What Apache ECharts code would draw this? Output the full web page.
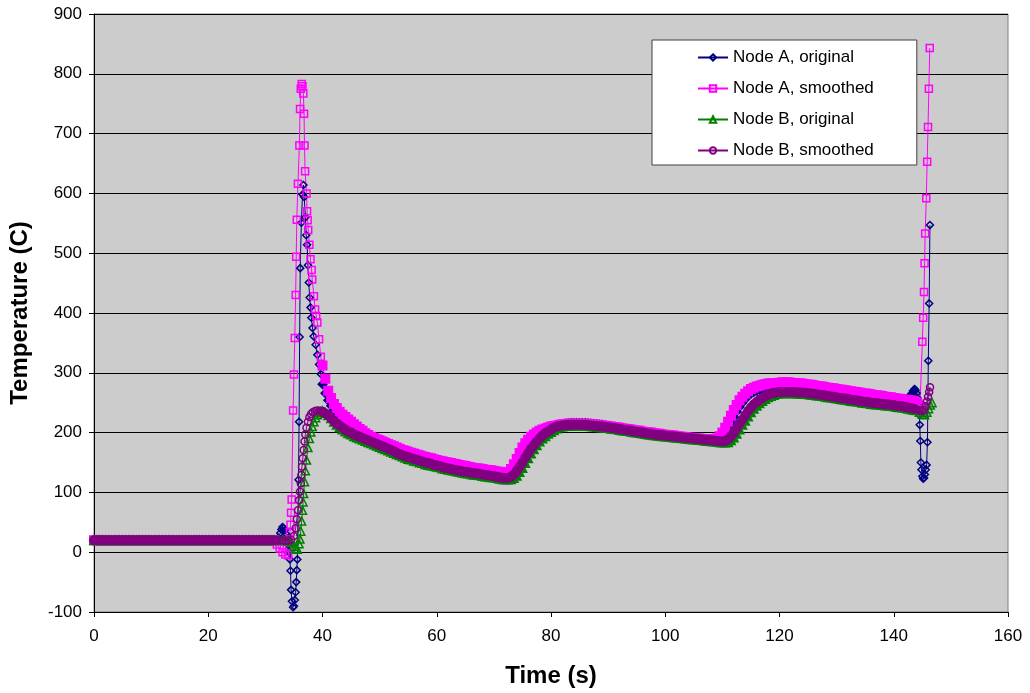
<!DOCTYPE html>
<html>
<head>
<meta charset="utf-8">
<script src="https://cdn.jsdelivr.net/npm/echarts@6/dist/echarts.min.js"></script>
<style>
  html, body { margin: 0; padding: 0; background: #ffffff; }
  #chart { width: 1030px; height: 693px; }
</style>
</head>
<body>
<div id="chart"></div>
<script>
// Regular samples every 0.5 s; the spike stretches are irregular [time, temp] pairs.
const sampleStep = 0.5;
const startTime = 0;
const midStartTime = 40;

const seriesNames = ['Node A, original', 'Node A, smoothed', 'Node B, original', 'Node B, smoothed'];
const seriesColors = ['#000080', '#ff00ff', '#008000', '#800080'];
const seriesSymbols = ['diamond', 'rect', 'triangle', 'circle'];
const xTicks = { min: 0, max: 160, interval: 20 };
const yTicks = { min: -100, max: 900, interval: 100 };

// 0 .. 31.5 s, all four nodes sit at the initial temperature
const startTemps = [
  20, 20, 20, 20, 20, 20, 20, 20, 20, 20, 20, 20, 20, 20, 20, 20,
  20, 20, 20, 20, 20, 20, 20, 20, 20, 20, 20, 20, 20, 20, 20, 20,
  20, 20, 20, 20, 20, 20, 20, 20, 20, 20, 20, 20, 20, 20, 20, 20,
  20, 20, 20, 20, 20, 20, 20, 20, 20, 20, 20, 20, 20, 20, 20, 20
];

// 32 .. 40 s
const nodeAOrigSpike = [
  [32.0, 20], [32.3, 24], [32.6, 32], [32.8, 38], [33.0, 42], [33.2, 40], [33.4, 37], [33.6, 31],
  [33.8, 23], [34.0, 12], [34.15, 0], [34.3, -12], [34.4, -31], [34.5, -63], [34.65, -82],
  [34.85, -92], [35.0, -90], [35.15, -80], [35.3, -67], [35.4, -50], [35.5, -30], [35.6, -12],
  [35.8, 121], [35.9, 218], [36.0, 360], [36.1, 475], [36.3, 551], [36.5, 598], [36.66, 614],
  [36.8, 594], [37.0, 560], [37.15, 530], [37.3, 514], [37.45, 480], [37.6, 451], [37.75, 426],
  [37.9, 409], [38.05, 392], [38.25, 375], [38.45, 361], [38.8, 347], [39.1, 330], [39.4, 314],
  [39.7, 298]
];
const nodeASmoothSpike = [
  [32.0, 13], [32.5, 6], [33.0, 0], [33.5, -4], [34.0, -5], [34.15, 10], [34.3, 33], [34.4, 46],
  [34.5, 66], [34.6, 88], [34.85, 237], [35.0, 297], [35.15, 358], [35.3, 430], [35.4, 494],
  [35.5, 556], [35.7, 616], [35.95, 680], [36.07, 741], [36.2, 775], [36.35, 783], [36.5, 779],
  [36.65, 767], [36.77, 733], [36.85, 680], [36.95, 637], [37.2, 600], [37.3, 570], [37.4, 555],
  [37.5, 539], [37.7, 514], [37.9, 490], [38.1, 472], [38.2, 456], [38.5, 428], [38.7, 406],
  [38.9, 395], [39.1, 384], [39.4, 356], [39.7, 327]
];
const nodeBOrigSpike = [
  [32.0, 20], [32.5, 20], [33.0, 20], [33.5, 19.5], [34.0, 19], [34.5, 16], [35.0, 10], [35.3, 6],
  [35.6, 5], [35.9, 14], [36.05, 22], [36.2, 35], [36.35, 52], [36.5, 70], [36.6, 84], [36.7, 98],
  [36.85, 118], [37.0, 136], [37.2, 154], [37.45, 175], [37.7, 190], [37.95, 201], [38.2, 210],
  [38.5, 218], [38.8, 225], [39.1, 230], [39.4, 233], [39.7, 235]
];
const nodeBSmoothSpike = [
  [32.0, 20], [32.5, 20], [33.0, 20], [33.5, 19], [34.0, 19], [34.5, 21], [35.0, 27], [35.3, 40],
  [35.5, 55], [35.7, 70], [35.9, 87], [36.05, 101], [36.2, 115], [36.3, 129], [36.4, 143],
  [36.55, 157], [36.7, 171], [36.85, 185], [37.0, 197], [37.2, 208], [37.45, 218], [37.7, 226],
  [38.0, 231], [38.3, 234], [38.7, 236], [39.1, 237], [39.5, 236.5], [39.8, 236]
];

// 40 .. 143.5 s, one row per 10 s
const nodeAOrigMid = [
  281, 266, 254, 245, 238, 233, 228, 224, 220, 216, 213, 210, 207, 204, 201, 197, 194, 191, 189, 187,
  185, 183, 181, 179, 177, 175, 173, 171, 169, 167.5, 166, 164.5, 163, 161.5, 160, 158.5, 157, 156, 155, 153.5,
  152, 151, 150, 149, 148, 147, 146, 145, 144, 143, 142, 141, 140, 139, 138.5, 138, 137, 136, 135.5, 135,
  134, 133, 132.5, 132, 131, 131, 135, 141, 149, 158, 167, 175, 182, 188, 193, 197, 200, 203, 205, 207,
  209, 210.5, 212, 213, 214, 215, 215.5, 216, 216, 216, 216, 216, 216, 215.5, 215, 214.5, 214, 213.5, 213, 212,
  210, 209, 208.5, 208, 207, 206, 205.5, 205, 204, 203, 202.5, 202, 201, 200, 199.5, 199, 198, 197.5, 197, 196,
  195.5, 195, 194.5, 194, 193, 192.5, 192, 191.5, 191, 190.5, 190, 189.5, 189, 188.5, 188, 188, 188, 188, 188, 189.5,
  193, 199, 207, 216, 226, 235, 243, 250, 256, 261, 265, 268, 270, 272, 274, 275, 276, 277, 277.5, 278,
  278.5, 279, 279, 279, 278.5, 278, 278, 277.5, 277, 276, 275.5, 275, 274, 273, 272.5, 272, 271, 270, 269.5, 269,
  268, 267, 266.5, 266, 265, 264, 263.5, 263, 262, 261, 260.5, 260, 259, 258, 257.5, 257, 256, 255, 254.5, 254,
  253, 252, 251.5, 251, 252, 256, 263, 270
];
const nodeASmoothMid = [
  312, 290, 270, 258, 248, 241, 235, 230, 226, 222, 218, 214, 210, 206, 203, 199, 196, 193, 191, 189,
  187, 185, 183, 181, 179, 177, 175, 173, 171, 169.5, 168, 166.5, 165, 163.5, 162, 160.5, 159, 158, 157, 155.5,
  154, 153, 152, 151, 150, 149, 148, 147, 146, 145, 144, 143, 142, 141, 140.5, 140, 139, 138, 137.5, 137,
  136, 135, 134.5, 134, 133, 134, 139, 147, 156, 166, 175, 182, 188, 193, 197, 200, 203, 205, 207, 208.5,
  210, 211, 212, 213, 214, 214.5, 215, 215, 215, 215, 215, 215, 215, 214.5, 214, 213.5, 213, 212.5, 212, 211.5,
  211, 210, 209.5, 209, 208, 207, 206.5, 206, 205, 204, 203.5, 203, 202, 201, 200.5, 200, 199, 198.5, 198, 197,
  196.5, 196, 195.5, 195, 194, 193.5, 193, 192.5, 192, 191.5, 191, 190.5, 190, 189.5, 189, 189, 189, 189, 190, 194,
  200, 208, 218, 228, 238, 246, 254, 260, 265, 269, 273, 275, 277, 278.5, 280, 281, 282, 282.5, 283, 283,
  283.5, 284, 284, 284, 283.5, 283, 283, 282.5, 282, 281, 280.5, 280, 279, 278, 277.5, 277, 276, 275, 274.5, 274,
  273, 272, 271.5, 271, 270, 269, 268.5, 268, 267, 266, 265.5, 265, 264, 263, 262.5, 262, 261, 260, 259.5, 259,
  258, 257, 256.5, 256, 255, 254.5, 254, 253
];
const nodeBOrigMid = [
  236, 233, 229, 224, 218, 213, 209, 205, 202, 199, 197, 194, 192, 190, 188, 186, 184, 182, 180, 178,
  176, 174, 172, 170, 168, 166, 164, 162, 160, 158, 156, 155, 153, 152, 150, 149, 147, 146, 145, 144,
  143, 142, 140, 139, 138, 137, 136, 135, 134, 133, 132, 131.5, 130.5, 129.5, 129, 128.5, 127.5, 126.5, 126, 125.5,
  125, 124, 123, 122, 121.5, 121.5, 122, 124, 128, 134, 141, 149, 157, 165, 172, 179, 185, 190, 194, 198,
  201, 204, 207, 209, 210, 211, 211.5, 212, 212, 212, 212, 212, 211.5, 211, 210.5, 210, 209.5, 209, 208.5, 208,
  207.5, 206.5, 206, 205.5, 204.5, 203.5, 203, 202.5, 201.5, 200.5, 200, 199.5, 198.5, 197.5, 197, 196.5, 195.5, 195, 194.5, 194,
  193.5, 193, 192.5, 192, 191.5, 191, 190.5, 190, 189.5, 189, 188.5, 188, 187.5, 187, 186.5, 186, 185.5, 185, 184.5, 184,
  183.5, 183.5, 184, 187, 192, 198, 205, 213, 220, 227, 234, 240, 245, 249, 253, 256, 259, 261, 263, 264.5,
  265.5, 266, 266, 266, 266, 266, 265.5, 265, 265, 264.5, 264, 263.5, 263, 262, 261.5, 261, 260, 259, 258.5, 258,
  257, 256, 255.5, 255, 254, 253, 252.5, 252, 251, 250, 249.5, 249, 248, 247.5, 247, 246.5, 246, 245.5, 245, 244.5,
  244, 243, 242.5, 242, 241, 240, 239, 238
];
const nodeBSmoothMid = [
  235, 232, 229, 224, 219, 215, 212, 208, 205, 202, 200, 197, 195, 193, 191, 189, 187, 185, 183, 181,
  179, 177, 175, 173, 171, 169, 166, 164, 162, 160.5, 159, 157.5, 156, 154.5, 153, 151.5, 150, 149, 148, 146,
  145, 144, 142.5, 141, 140, 139, 138, 137, 136, 135, 134.5, 134, 133, 132, 131.5, 131, 130, 129, 128.5, 128,
  127, 126, 125, 124.5, 124, 124, 126, 130, 136, 143, 150, 158, 166, 173, 179, 185, 190, 195, 199, 202,
  205, 208, 210, 211, 212, 212.5, 213, 213, 213, 213, 213, 213, 213, 212.5, 212, 211.5, 211, 210.5, 210, 209.5,
  209, 208, 207.5, 207, 206, 205, 204.5, 204, 203, 202, 201.5, 201, 200, 199, 198.5, 198, 197, 196.5, 196, 195.5,
  195, 194.5, 194, 193.5, 193, 192.5, 192, 191.5, 191, 190.5, 190, 189.5, 189, 188.5, 188, 187.5, 187, 186.5, 186, 185.5,
  185, 186, 189, 194, 200, 207, 215, 222, 229, 236, 242, 247, 251, 255, 258, 261, 263, 265, 266, 267,
  268, 268, 268, 268, 268, 268, 267.5, 267, 267, 266.5, 266, 265.5, 265, 264, 263.5, 263, 262, 261, 260.5, 260,
  259, 258, 257.5, 257, 256, 255, 254.5, 254, 253, 252, 251.5, 251, 250, 249.5, 249, 248.5, 248, 247.5, 247, 246.5,
  246, 245, 244.5, 244, 243, 242, 241, 240
];

// 143.6 s .. end of run
const nodeAOrigEnd = [
  [143.65, 273], [143.8, 271], [144.0, 266], [144.15, 258], [144.3, 245], [144.45, 230], [144.55, 213],
  [144.65, 186], [144.75, 150], [144.85, 138], [145.0, 127], [145.15, 123], [145.3, 124], [145.45, 130],
  [145.6, 138], [145.75, 146], [145.9, 184], [146.05, 320], [146.2, 416], [146.33, 547]
];
const nodeASmoothEnd = [
  [144.0, 252], [144.3, 249], [144.6, 246], [144.85, 244], [145.0, 352], [145.15, 392], [145.3, 435],
  [145.4, 483], [145.5, 533], [145.7, 592], [145.85, 653], [146.0, 711], [146.15, 775], [146.3, 843]
];
const nodeBOrigEnd = [
  [144.0, 237], [144.5, 234], [145.0, 231], [145.4, 230], [145.8, 234], [146.1, 240], [146.4, 246], [146.7, 250]
];
const nodeBSmoothEnd = [
  [144.0, 239], [144.5, 237], [145.0, 236], [145.3, 238], [145.55, 244], [145.8, 252], [146.0, 260],
  [146.2, 268], [146.35, 276]
];

// The evenly sampled stretches are so dense in the original that the markers
// merge into a solid band, so those points get a filled, slightly larger marker.
function buildPoints(spike, mid, end, color) {
  const solid = { color };
  const points = [];
  startTemps.forEach((temp, idx) => {
    points.push({ value: [startTime + idx * sampleStep, temp], itemStyle: solid, symbolSize: 8.5 });
  });
  spike.forEach((p) => points.push(p));
  mid.forEach((temp, idx) => {
    points.push({ value: [midStartTime + idx * sampleStep, temp], itemStyle: solid, symbolSize: 8.5 });
  });
  end.forEach((p) => points.push(p));
  return points;
}

const seriesData = [
  buildPoints(nodeAOrigSpike, nodeAOrigMid, nodeAOrigEnd, seriesColors[0]),
  buildPoints(nodeASmoothSpike, nodeASmoothMid, nodeASmoothEnd, seriesColors[1]),
  buildPoints(nodeBOrigSpike, nodeBOrigMid, nodeBOrigEnd, seriesColors[2]),
  buildPoints(nodeBSmoothSpike, nodeBSmoothMid, nodeBSmoothEnd, seriesColors[3])
];

const font = "'Liberation Sans', Arial, sans-serif";
const chart = echarts.init(document.getElementById('chart'), null, { renderer: 'canvas' });

chart.setOption({
  animation: false,
  backgroundColor: '#ffffff',
  textStyle: { fontFamily: font, color: '#000000' },
  grid: {
    left: 93, right: 22, top: 14, bottom: 81,
    show: true, backgroundColor: '#cccccc', borderColor: '#808080', borderWidth: 1
  },
  legend: {
    orient: 'vertical',
    left: 652,
    top: 40,
    backgroundColor: '#ffffff',
    borderColor: '#404040',
    borderWidth: 1,
    padding: [9, 43, 6, 45],
    itemGap: 14,
    itemWidth: 30,
    itemHeight: 8,
    textStyle: { fontFamily: font, fontSize: 17, color: '#000000' },
    data: seriesNames
  },
  xAxis: {
    type: 'value',
    min: xTicks.min,
    max: xTicks.max,
    interval: xTicks.interval,
    name: 'Time (s)',
    nameLocation: 'middle',
    nameGap: 52,
    nameTextStyle: { fontFamily: font, fontSize: 24, fontWeight: 'bold', color: '#000000' },
    axisLine: { onZero: false, lineStyle: { color: '#000000', width: 1 } },
    axisTick: { show: true, inside: false, length: 5, lineStyle: { color: '#000000' } },
    axisLabel: { fontFamily: font, fontSize: 17, color: '#000000', margin: 16 },
    splitLine: { show: false }
  },
  yAxis: {
    type: 'value',
    min: yTicks.min,
    max: yTicks.max,
    interval: yTicks.interval,
    name: 'Temperature (C)',
    nameLocation: 'middle',
    nameGap: 62,
    nameRotate: 90,
    nameTextStyle: { fontFamily: font, fontSize: 24, fontWeight: 'bold', color: '#000000' },
    axisLine: { show: true, lineStyle: { color: '#000000', width: 1 } },
    axisTick: { show: true, inside: false, length: 5, lineStyle: { color: '#000000' } },
    axisLabel: { fontFamily: font, fontSize: 17, color: '#000000', margin: 12 },
    splitLine: { show: true, lineStyle: { color: '#000000', width: 1 } }
  },
  series: seriesNames.map((name, idx) => ({
    name,
    type: 'line',
    data: seriesData[idx],
    symbol: seriesSymbols[idx],
    symbolSize: idx === 2 ? 8 : 7,
    showAllSymbol: true,
    lineStyle: { color: seriesColors[idx], width: 1 },
    itemStyle: { color: 'rgba(0,0,0,0)', borderColor: seriesColors[idx], borderWidth: 1.5 },
    emphasis: { disabled: true }
  }))
});
</script>
</body>
</html>
